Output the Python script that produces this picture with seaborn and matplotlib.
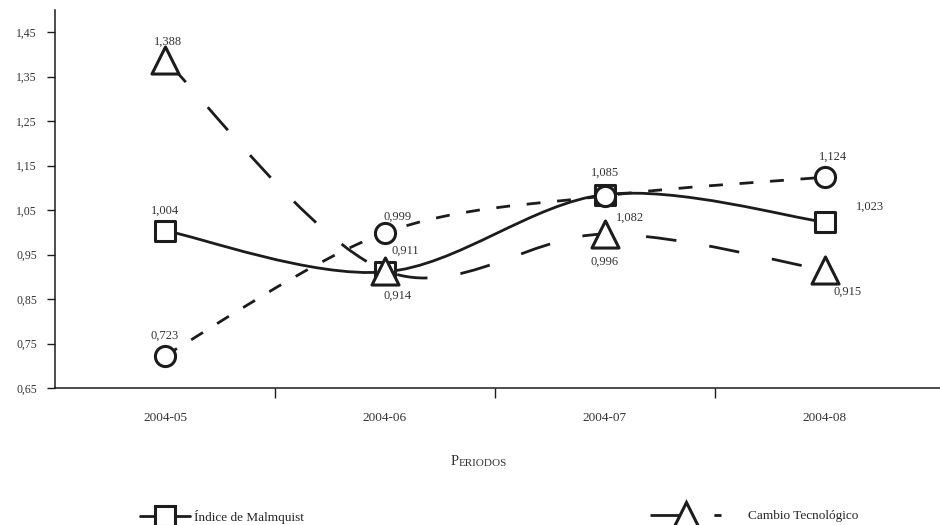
import numpy as np
import pandas as pd
import seaborn as sns
import matplotlib.pyplot as plt
from matplotlib.path import Path
from matplotlib.patches import PathPatch
from matplotlib.lines import Line2D

# Data
periodos = ["2004-05", "2004-06", "2004-07", "2004-08"]
malmquist = [1.004, 0.911, 1.085, 1.023]
eficiencia = [0.723, 0.999, 1.082, 1.124]
tecnologico = [1.388, 0.914, 0.996, 0.915]
y_ticks = [0.65, 0.75, 0.85, 0.95, 1.05, 1.15, 1.25, 1.35, 1.45]

INK = "#1c1c1c"


def smooth_path(x, y):
    # Catmull-Rom style smoothing (like a spreadsheet "smoothed line")
    pts = np.column_stack([x, y]).astype(float)
    n = len(pts)
    verts = [pts[0]]
    codes = [Path.MOVETO]
    for i in range(n - 1):
        p0 = pts[max(i - 1, 0)]
        p1 = pts[i]
        p2 = pts[i + 1]
        p3 = pts[min(i + 2, n - 1)]
        verts += [p1 + (p2 - p0) / 6.0, p2 - (p3 - p1) / 6.0, p2]
        codes += [Path.CURVE4] * 3
    return Path(verts, codes)


def fmt(v):
    return f"{v:.3f}".replace(".", ",")


sns.set_style("ticks")
plt.rcParams["font.family"] = ["Liberation Serif", "DejaVu Serif"]

fig = plt.figure(figsize=(9.4, 5.25), dpi=100)
ax = fig.add_axes([55 / 940, 1 - 388 / 525, 1 - 55 / 940, (388 - 10) / 525])

x = np.arange(len(periodos))
series = {
    "Índice de Malmquist": (malmquist, "s", "-", 220),
    "Cambio en Eficiencia": (eficiencia, "o", (0, (5, 6)), 210),
    "Cambio Tecnológico": (tecnologico, "^", (0, (11, 12)), 380),
}

# Smoothed connecting lines
for name, (vals, mk, ls, size) in series.items():
    patch = PathPatch(smooth_path(x, vals), fill=False, edgecolor=INK,
                      lw=2.0, linestyle=ls, capstyle="butt", zorder=2)
    ax.add_patch(patch)

# Markers
df = pd.DataFrame({
    "x": np.tile(x, 3),
    "valor": malmquist + eficiencia + tecnologico,
    "serie": np.repeat(list(series.keys()), len(x)),
})
for name, (vals, mk, ls, size) in series.items():
    sub = df[df["serie"] == name]
    sns.scatterplot(data=sub, x="x", y="valor", marker=mk, s=size, color="white",
                    edgecolor=INK, linewidth=2.2, ax=ax, legend=False, zorder=3)

# Data labels (offsets in pixels)
offsets = {
    "Índice de Malmquist": [(0, 20), (20, 21), (0, 22), (45, 15)],
    "Cambio en Eficiencia": [(0, 20), (13, 16), (25, -22), (8, 20)],
    "Cambio Tecnológico": [(3, 18), (13, -25), (0, -28), (23, -22)],
}
for name, (vals, mk, ls, size) in series.items():
    for xi, v, off in zip(x, vals, offsets[name]):
        ax.annotate(fmt(v), (xi, v), xytext=off, textcoords="offset pixels",
                    ha="center", va="center", fontsize=9, color="#333333", zorder=4)

# Axes
ax.set_xlim(-0.5, 3.523)
ax.set_ylim(0.65, 1.50)
ax.set_xlabel("")
ax.set_ylabel("")
ax.set_yticks(y_ticks)
ax.set_yticklabels([fmt(t)[:-1] for t in y_ticks], fontsize=8.5, color="#333333")
ax.set_xticks(x)
ax.set_xticklabels(periodos, fontsize=9.5, color="#333333")
ax.set_xticks(x[:-1] + 0.5, minor=True)
ax.tick_params(axis="x", which="major", length=0, pad=17)
ax.tick_params(axis="x", which="minor", length=7, width=1, direction="out", color=INK)
ax.tick_params(axis="y", length=6, width=1, direction="out", color=INK, pad=7)
sns.despine(ax=ax)
for s in ("left", "bottom"):
    ax.spines[s].set_color(INK)
    ax.spines[s].set_linewidth(1.1)

# Small-caps style axis title
t = fig.text(0.5 - 0.012, 1 - 465 / 525, "P", fontsize=10.5, ha="right", va="baseline", color="#333333")
ax.annotate("ERIODOS", xy=(1, 0), xycoords=t, fontsize=8, ha="left", va="bottom",
            color="#333333", annotation_clip=False)

# Legend entries at the bottom (cut by the lower edge, as in the source)
h_malm = Line2D([], [], color=INK, lw=2.0, marker="s", ms=14, mfc="white", mew=2.2)
h_tec = Line2D([], [], color=INK, lw=2.0, ls=(0, (11, 12)), marker="^", ms=19, mfc="white", mew=2.2)
fig.legend([h_malm], ["Índice de Malmquist"], loc="upper left",
           bbox_to_anchor=(140 / 940, 1 - 510 / 525), frameon=False, fontsize=9.5,
           handlelength=3.8, handletextpad=0.3, borderpad=0, borderaxespad=0)
fig.legend([h_tec], ["Cambio Tecnológico"], loc="upper left",
           bbox_to_anchor=(650 / 940, 1 - 510 / 525), frameon=False, fontsize=9.5,
           handlelength=5.4, handletextpad=2.0, borderpad=0, borderaxespad=0)

fig.savefig("out.png", dpi=100)
